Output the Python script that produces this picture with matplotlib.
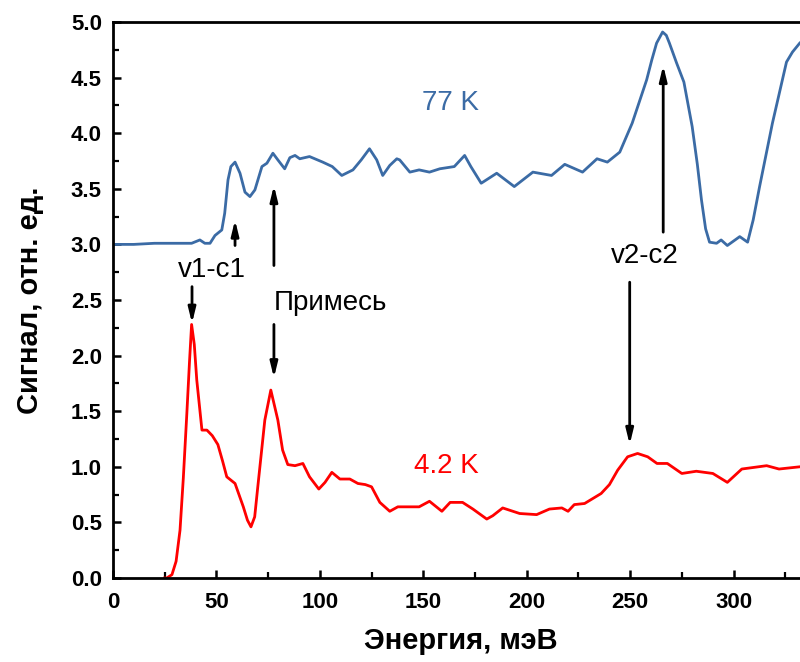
import matplotlib
matplotlib.use("Agg")
import matplotlib.pyplot as plt
from matplotlib.ticker import MultipleLocator

plt.rcParams['font.family'] = ['Liberation Sans', 'DejaVu Sans']

# 77 K spectrum
x77 = [0, 10, 20, 30, 38, 42, 44.4, 46.9, 49.3, 52.6, 54, 55.6, 57, 59, 61.4, 63.8, 66.2, 68.6,
       72, 74.4, 77.3, 79.7, 83, 85.5, 88, 90.3, 95, 101.4, 106, 110.6, 116, 120, 124,
       127.5, 130.4, 133.8, 137.2, 138.6, 143.5, 148, 153, 158, 165, 170, 173, 178, 185.5,
       194, 203, 212, 218.4, 227, 234, 239, 245, 251, 258, 260.5, 262.8, 265.7, 267.5, 269,
       272.5, 276, 280, 282.5, 284.5, 286.5, 288.4, 291.8, 294, 297, 303, 306.8, 309.5,
       312.6, 318.8, 325.6, 328.5, 332]
y77 = [3.00, 3.00, 3.01, 3.01, 3.01, 3.04, 3.01, 3.01, 3.08, 3.13, 3.28, 3.58, 3.70, 3.74, 3.64,
       3.47, 3.43, 3.49, 3.70, 3.73, 3.82, 3.76, 3.68, 3.78, 3.80, 3.77, 3.79, 3.74, 3.70,
       3.62, 3.67, 3.76, 3.86, 3.76, 3.62, 3.71, 3.77, 3.76, 3.65, 3.67, 3.65, 3.68, 3.70,
       3.80, 3.70, 3.55, 3.64, 3.52, 3.65, 3.62, 3.72, 3.65, 3.77, 3.74, 3.83, 4.09, 4.48,
       4.66, 4.81, 4.91, 4.88, 4.81, 4.63, 4.46, 4.06, 3.72, 3.40, 3.14, 3.02, 3.01, 3.04,
       2.99, 3.07, 3.02, 3.22, 3.52, 4.09, 4.64, 4.73, 4.81]

# 4.2 K spectrum
x42 = [25, 26, 28.5, 30.5, 32.4, 34, 35.7, 37, 38, 39.3, 40.5, 43, 45.4, 48, 50.7, 53, 55,
       59, 63, 65, 66.7, 68.5, 70, 73.4, 76.3, 79.7, 82, 84.5, 88, 91.8, 95, 99.5, 102.5,
       105.8, 109.7, 114.5, 118.4, 122, 125, 129, 133.8, 137.7, 148, 153, 159, 163, 169,
       174, 180.7, 183.6, 188.4, 196.6, 204.8, 211, 217, 220, 223, 228, 236, 240, 244,
       248.8, 253.6, 258.5, 263, 268, 275, 282, 290, 297, 304, 316, 322, 332]
y42 = [0.00, 0.00, 0.03, 0.15, 0.43, 0.90, 1.48, 1.95, 2.28, 2.10, 1.78, 1.33, 1.33, 1.28,
       1.20, 1.05, 0.91, 0.85, 0.64, 0.52, 0.46, 0.55, 0.82, 1.42, 1.69, 1.42, 1.15, 1.02,
       1.01, 1.03, 0.91, 0.80, 0.86, 0.95, 0.89, 0.89, 0.85, 0.84, 0.82, 0.68, 0.60, 0.64,
       0.64, 0.69, 0.60, 0.68, 0.68, 0.62, 0.53, 0.56, 0.63, 0.58, 0.57, 0.62, 0.63, 0.60,
       0.66, 0.67, 0.76, 0.84, 0.97, 1.09, 1.12, 1.09, 1.03, 1.03, 0.94, 0.96, 0.94, 0.86,
       0.98, 1.01, 0.98, 1.00]

blue = '#3B6BA5'
red = '#FF0000'

fig = plt.figure(figsize=(8.0, 6.62), dpi=100)
ax = fig.add_axes([113/800, 1-578/662, 1-113/800 + 0.01, (578-22)/662])
ax.plot(x77, y77, color=blue, lw=2.0, solid_joinstyle='round')
ax.plot(x42, y42, color=red, lw=2.0, solid_joinstyle='round')

ax.set_xlim(0, 336)
ax.set_ylim(0, 5.0)
ax.xaxis.set_major_locator(MultipleLocator(50))
ax.xaxis.set_minor_locator(MultipleLocator(25))
ax.yaxis.set_major_locator(MultipleLocator(0.5))
ax.yaxis.set_minor_locator(MultipleLocator(0.25))
ax.yaxis.set_major_formatter(plt.FormatStrFormatter('%.1f'))
ax.tick_params(which='major', direction='in', length=6, width=1.8, labelsize=16)
ax.tick_params(axis='y', which='major', pad=8)
ax.tick_params(axis='x', which='major', pad=10)
ax.tick_params(which='minor', direction='in', length=4, width=1.6)
for lab in ax.get_xticklabels() + ax.get_yticklabels():
    lab.set_fontweight('bold')
for s in ax.spines.values():
    s.set_linewidth(2.0)
ax.spines['right'].set_visible(False)

ax.set_xlabel('Энергия, мэВ', fontsize=21, fontweight='bold', labelpad=10)
ax.set_ylabel('Сигнал, отн. ед.', fontsize=21, fontweight='bold', labelpad=19)

ax.text(163, 4.27, '77 K', color=blue, fontsize=20, ha='center', va='center')
ax.text(161, 1.01, '4.2 K', color=red, fontsize=20, ha='center', va='center')
ax.text(48, 2.77, 'v1-c1', color='black', fontsize=20, ha='center', va='center')
ax.text(105, 2.47, 'Примесь', color='black', fontsize=20, ha='center', va='center')
ax.text(257, 2.90, 'v2-c2', color='black', fontsize=20, ha='center', va='center')

ap = dict(arrowstyle='-|>,head_length=0.9,head_width=0.22', lw=2.0, color='black',
          shrinkA=0, shrinkB=0)
arrows = [((59, 2.99), (59, 3.22)),
          ((77.8, 2.81), (77.8, 3.53)),
          ((38.2, 2.62), (38.2, 2.29)),
          ((77.8, 2.28), (77.8, 1.80)),
          ((266, 3.11), (266, 4.61)),
          ((249.8, 2.66), (249.8, 1.20))]
for start, end in arrows:
    ax.annotate('', xy=end, xytext=start, arrowprops=ap)

fig.savefig('out.png', dpi=100)
